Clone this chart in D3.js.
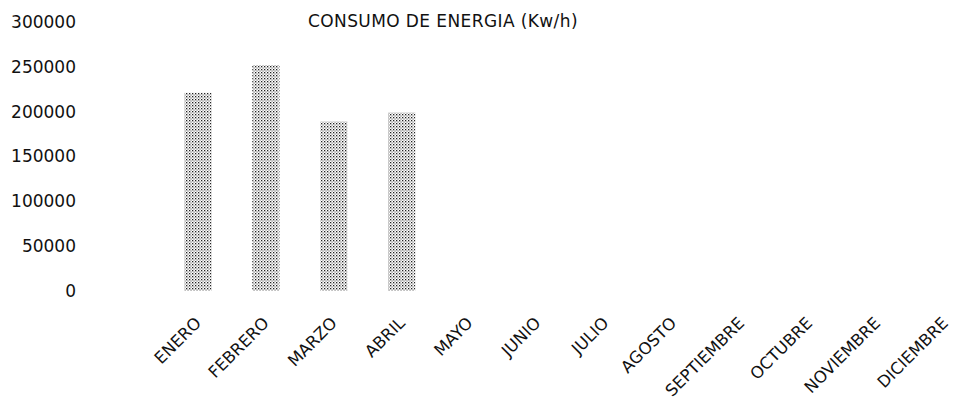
<!DOCTYPE html>
<html>
<head>
<meta charset="utf-8">
<script src="https://cdn.jsdelivr.net/npm/d3@7"></script>
<style>
  html, body { margin: 0; padding: 0; background: #ffffff; }
  svg { display: block; }
</style>
</head>
<body>
<svg id="chart" width="957" height="406"></svg>
<script>
const title = "CONSUMO DE ENERGIA (Kw/h)";
const months = ["ENERO", "FEBRERO", "MARZO", "ABRIL", "MAYO", "JUNIO", "JULIO",
                "AGOSTO", "SEPTIEMBRE", "OCTUBRE", "NOVIEMBRE", "DICIEMBRE"];
const consumo = [221000, 252000, 189000, 199000, null, null, null, null, null, null, null, null];
const yTicks = [0, 50000, 100000, 150000, 200000, 250000, 300000];

const svg = d3.select("#chart");

const defs = svg.append("defs");
const pat = defs.append("pattern")
  .attr("id", "dots")
  .attr("patternUnits", "userSpaceOnUse")
  .attr("width", 3).attr("height", 3);
pat.append("rect").attr("width", 3).attr("height", 3).attr("fill", "#ffffff");
pat.append("rect").attr("x", 0).attr("y", 0).attr("width", 1.3).attr("height", 1.3).attr("fill", "#222");
pat.append("rect").attr("x", 1.5).attr("y", 1.5).attr("width", 1.1).attr("height", 1.1).attr("fill", "#555");

const y = d3.scaleLinear().domain([0, 300000]).range([291, 22]);
const x = d3.scaleBand().domain(months).range([164, 979]).paddingInner(0.6).paddingOuter(0.3);

// Y axis (labels only)
const yAxis = svg.append("g").attr("transform", "translate(76,0)")
  .call(d3.axisLeft(y).tickValues(yTicks).tickSize(0).tickPadding(0).tickFormat(d3.format("d")));
yAxis.select(".domain").remove();
yAxis.selectAll("text")
  .attr("font-family", "DejaVu Sans")
  .attr("font-size", 17)
  .attr("fill", "#111");

// Bars
svg.append("g").selectAll("rect")
  .data(months.map((m, i) => ({ m, v: consumo[i] })).filter(d => d.v != null))
  .join("rect")
  .attr("x", d => x(d.m))
  .attr("y", d => y(d.v))
  .attr("width", x.bandwidth())
  .attr("height", d => y(0) - y(d.v))
  .attr("fill", "url(#dots)");

// X axis labels
const xAxis = svg.append("g").attr("transform", "translate(-4,316)")
  .call(d3.axisBottom(x).tickSize(0).tickPadding(0));
xAxis.select(".domain").remove();
xAxis.selectAll("text")
  .attr("font-family", "DejaVu Sans")
  .attr("font-size", 16.5)
  .attr("fill", "#111")
  .attr("text-anchor", "end")
  .attr("dy", "0.7em")
  .attr("y", 0)
  .attr("transform", "rotate(-45)");

// Title
svg.append("text")
  .attr("x", 443).attr("y", 27)
  .attr("text-anchor", "middle")
  .attr("font-family", "DejaVu Sans")
  .attr("font-size", 17)
  .attr("letter-spacing", 0.4)
  .attr("fill", "#111")
  .text(title);
</script>
</body>
</html>
